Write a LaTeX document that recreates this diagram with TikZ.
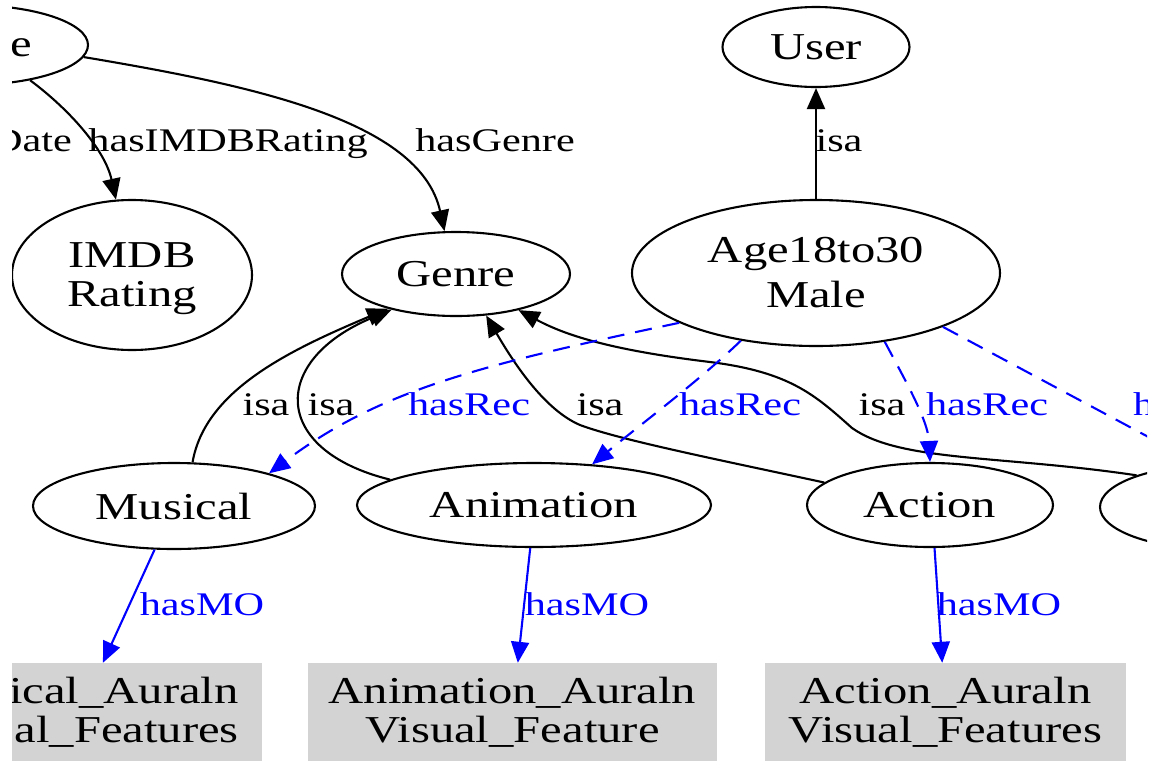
\documentclass[tikz,border=0pt]{standalone}
\usepackage{fontspec}
\setmainfont{Liberation Serif}[FakeStretch=1.28]
\usetikzlibrary{shapes.geometric,arrows.meta}
\definecolor{lgray}{HTML}{D3D3D3}
\begin{document}
\begin{tikzpicture}[x=1pt,y=-1pt,
  nd/.style={ellipse,draw,line width=2.1pt,inner sep=0pt,font=\fontsize{38}{39}\selectfont,align=center},
  feat/.style={rectangle,fill=lgray,inner sep=0pt,font=\fontsize{38}{39}\selectfont,align=center},
  plaintext/.style={inner sep=0pt,font=\fontsize{38}{39}\selectfont},
  tipstyle/.style={-{Triangle[length=21pt,width=18pt]}},
  isa/.style={line width=2.1pt,tipstyle},
  rec/.style={line width=2.1pt,blue,dash pattern=on 17pt off 11pt,tipstyle},
  mo/.style={line width=2.1pt,blue,tipstyle},
  lbl/.style={font=\fontsize{33}{40}\selectfont,anchor=base,inner sep=0pt},
  blbl/.style={lbl,text=blue}]
\useasboundingbox (0,0) rectangle (1154,761);
\begin{scope}
\clip (12,0) rectangle (1147,761);
% nodes
\node[nd,minimum width=238pt,minimum height=80pt] (movie) at (-31,45) {};
\node[plaintext,anchor=base east] (movielbl) at (32,56) {e};
\node[nd,minimum width=240pt,minimum height=150pt,text depth=0pt] (imdb) at (132,275) {IMDB\\Rating};
\node[nd,minimum width=228pt,minimum height=84pt] (genre) at (456,274) {Genre};
\node[nd,minimum width=187pt,minimum height=80pt] (user) at (816,47) {User};
\node[nd,minimum width=368pt,minimum height=146pt,font=\fontsize{38}{45}\selectfont] (age) at (816,273) {Age18to30\\Male};
\node[nd,minimum width=282pt,minimum height=86pt] (musical) at (174,506) {Musical};
\node[nd,minimum width=354pt,minimum height=84pt] (animation) at (534,505) {Animation};
\node[nd,minimum width=246pt,minimum height=84pt] (action) at (930,505) {Action};
\node[nd,minimum width=230pt,minimum height=84pt] (rt) at (1215,507) {};
\node[feat,minimum width=363pt,minimum height=98pt] (musbox) at (80.5,712) {};
\node[plaintext,anchor=east,align=right] (mustext) at (239,712) {ical\_Auraln\\al\_Features};
\node[feat,minimum width=409pt,minimum height=98pt] (anibox) at (512.5,712) {Animation\_Auraln\\Visual\_Feature};
\node[feat,minimum width=361pt,minimum height=98pt] (actbox) at (945.5,712) {Action\_Auraln\\Visual\_Features};
% isa / property edges
\draw[isa] (movie.330) .. controls (70,110) and (105,150) .. (imdb.102);
\draw[isa] (movie.354) .. controls (250,85) and (420,120) .. (genre.105);
\draw[isa] (age) -- (user);
\draw[isa] (musical.67) .. controls (205,390) and (290,350) .. (genre.207);
\draw[isa] (animation.170) .. controls (270,450) and (270,360) .. (genre.209);
\draw[isa] (action.168) .. controls (720,460) and (620,440) .. (580,425) .. controls (545,410) and (515,365) .. (genre.306);
\draw[isa] (rt.158) .. controls (1000,455) and (900,462) .. (852,428) .. controls (815,395) and (790,372) .. (710,362) .. controls (610,350) and (565,335) .. (genre.330);
% hasRec
\draw[rec] (age.200) .. controls (480,365) and (380,390) .. (musical.19);
\draw[rec] (age.222) .. controls (700,380) and (640,425) .. (animation.35);
\draw[rec] (age.315) .. controls (905,380) and (928,420) .. (action.90);
\draw[rec] (age.337) -- (rt.110);
% hasMO
\draw[mo] (musical.246) -- (musbox);
\draw[mo] (animation.265) -- (anibox);
\draw[mo] (action.276) -- (actbox);
% labels
\node[lbl] (l1) at (228,151) {hasIMDBRating};
\node[lbl] (l2) at (495,151) {hasGenre};
\node[lbl,anchor=base east] (l3) at (72,151) {Date};
\node[lbl] (l4) at (839,151) {isa};
\node[lbl] (l5) at (266,415) {isa};
\node[lbl] (l6) at (331,415) {isa};
\node[blbl] (l7) at (469,415) {hasRec};
\node[lbl] (l8) at (600,415) {isa};
\node[blbl] (l9) at (740,415) {hasRec};
\node[lbl] (l10) at (882,415) {isa};
\node[blbl] (l11) at (987,415) {hasRec};
\node[blbl,anchor=base west] (l12) at (1133,415) {h};
\node[blbl] (l13) at (202,615) {hasMO};
\node[blbl] (l14) at (587,615) {hasMO};
\node[blbl] (l15) at (999,615) {hasMO};
\end{scope}
\end{tikzpicture}
\end{document}
